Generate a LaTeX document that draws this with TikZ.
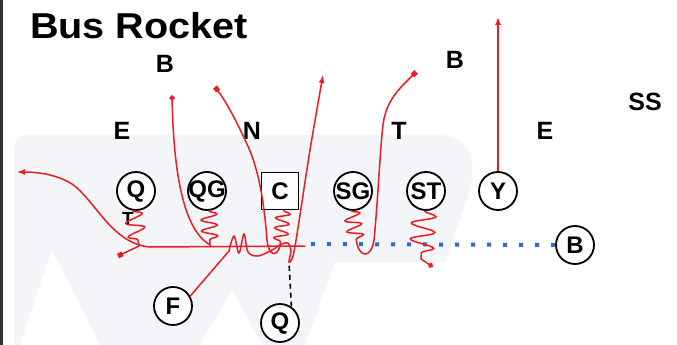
\documentclass[tikz,border=0pt]{standalone}
\usepackage{fontspec}
\setmainfont{Liberation Sans}
\usetikzlibrary{arrows.meta,decorations.pathmorphing}
\definecolor{routered}{HTML}{EC1C24}
\definecolor{readblue}{HTML}{2A6BD6}
\definecolor{wmgray}{HTML}{F4F5F8}
\newcommand\plab[1]{\makebox[0pt]{#1}}
\tikzset{
  player/.style={circle, draw, line width=1.8pt, fill=white, minimum size=38pt, inner sep=0pt,
    font=\fontsize{24}{24}\selectfont\bfseries},
  cbox/.style={player, rectangle, minimum size=37pt},
  def/.style={inner sep=0pt, font=\fontsize{25}{25}\selectfont\bfseries},
  run/.style={draw=routered, line width=1.5pt},
  zig/.style 2 args={decoration={snake, amplitude=#1, segment length=#2}},
  tip/.style={-{Latex[length=8pt,width=6pt]}},
  sq/.style={-{Square[length=5pt,width=5pt]}},
  dia/.style={-{Turned Square[length=6pt,width=6pt]}}
}
\begin{document}
\begin{tikzpicture}[x=1pt,y=-1pt]
  \useasboundingbox (0,0) rectangle (677,345);
  \fill[white] (0,0) rectangle (677,345);
  \fill[wmgray] (14,345) -- (14,150) .. controls (14,140) and (20,135) .. (32,135) -- (440,135)
    .. controls (472,135) and (478,165) .. (468,195) -- (445,262) -- (335,262) -- (305,345) -- cycle;
  \fill[white] (20,345) -- (52,250) -- (100,345) -- cycle;
  \fill[white] (200,345) -- (232,290) -- (262,345) -- cycle;
  \fill[black!80] (0,0) rectangle (3,345);

  \node[anchor=base west, inner sep=0pt, font=\fontsize{36}{36}\selectfont\bfseries]
    (title) at (30,38) {\scalebox{1.1}[1]{Bus Rocket}};

  \draw
    (165,64) node[def] (b1) {B}
    (455,60) node[def] (b2) {B}
    (122,131) node[def] (e1) {E}
    (252,131) node[def] (n) {N}
    (399,131) node[def] (t) {T}
    (545,131) node[def] (e2) {E}
    (645,102) node[def] (ss) {SS}
    (128,219) node[def, font=\fontsize{19}{19}\selectfont\bfseries] (tq) {T};

  \draw
    (136,191) node[player] (QT) {Q}
    (207,191) node[player] (QG) {\plab{QG}}
    (280,191) node[cbox] (C) {C}
    (353,191) node[player] (SG) {\plab{SG}}
    (426,191) node[player] (ST) {\plab{ST}}
    (498,191) node[player] (Y) {Y}
    (575,245) node[player] (B) {B}
    (173,306) node[player] (F) {F}
    (280,323) node[player] (QB) {Q};

  \coordinate (yEnd) at (498,17);
  \coordinate (tEnd) at (118,256);
  \coordinate (bEnd) at (172,95);
  \coordinate (nEnd) at (215,87);
  \coordinate (rEnd) at (323,75);
  \coordinate (sEnd) at (416,72);
  \coordinate (stEnd) at (433,267);
  \coordinate (mesh) at (289,262);
  \coordinate (sweep) at (305,246);
  \coordinate (wEnd) at (17,172);
  \coordinate (read) at (311,244);

  \draw[readblue, line width=4pt, dash pattern=on 4pt off 12pt] (read) -- (B.west);
  \draw[black, line width=1.6pt, dash pattern=on 5pt off 4pt] (QB.55) -- (mesh);

  \begin{scope}[run]
    \draw[tip] (Y.north) -- (yEnd);
    \draw[sq] (QT.-100) decorate[zig={9pt}{14pt}] {-- (139,246)} -- (tEnd);
    \draw[tip] (sweep) -- (150,247) .. controls (112,244) and (95,200) .. (72,184)
      .. controls (56,174) and (36,172) .. (wEnd);
    \draw[dia] (QG.-85) decorate[zig={8pt}{11pt}] {-- (210,245)} .. controls (188,232) and (174,190) .. (bEnd);
    \draw[sq] (C.-80) decorate[zig={7pt}{10pt}] {-- (280,246)} .. controls (277,257) and (269,257) .. (267,240)
      .. controls (264,200) and (258,165) .. (245,140) .. controls (235,118) and (225,100) .. (nEnd);
    \draw[tip] (F.30) -- (229,251) -- plot[smooth, tension=0.55] coordinates {(229,251) (234,236) (239,253)
      (244,234) (248,252) (258,256) (272,250) (282,244) (288,243) (291,250) (mesh) (293,256)
      (298,228) (310,150) (rEnd)};
    \draw[sq] (SG.-95) decorate[zig={8pt}{11pt}] {-- (357,244)} .. controls (360,257) and (371,259) .. (374,240)
      .. controls (378,200) and (380,150) .. (383,125) .. controls (386,100) and (400,88) .. (sEnd);
    \draw[dia] (ST.-95) decorate[zig={12pt}{16pt}] {-- (421,259)} -- (stEnd);
  \end{scope}
\end{tikzpicture}
\end{document}
